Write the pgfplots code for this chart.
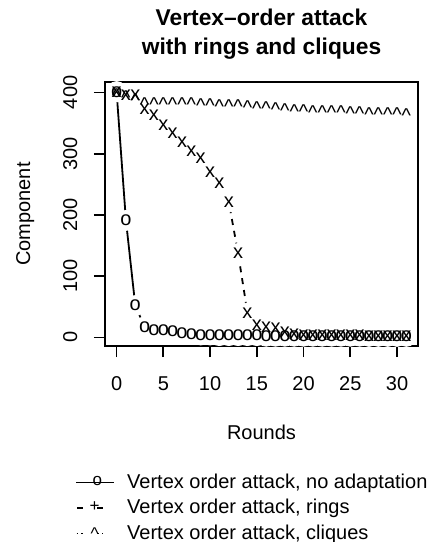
\documentclass[border=0pt]{standalone}
\usepackage{fontspec}
\setmainfont{Liberation Sans}
\setsansfont{Liberation Sans}
\usepackage{pgfplots}
\pgfplotsset{compat=1.18}
\usepackage{pgfplotstable}

\pgfplotstableread{
r noad rings cliques
0 401 401 401
1 191 396 397
2 52 395 392
3 17 372 386
4 12 362 386
5 11 347 386
6 10 333 385
7 7 318 385
8 5 304 385
9 4 292 384
10 4 269 384
11 3 251 383
12 3 221 383
13 3 137 382
14 3 40 381
15 3 20 380
16 2 17 379
17 2 15 377
18 2 8 376
19 2 5 375
20 2 4 374
21 2 3 373
22 2 3 373
23 2 3 372
24 2 3 372
25 2 3 371
26 2 3 371
27 2 2 370
28 2 2 370
29 2 2 369
30 2 2 369
31 2 2 368
}\data

\begin{document}
\begin{tikzpicture}
\useasboundingbox (0,0) rectangle (215.5pt,-271pt);
\begin{axis}[
  at={(52.5pt,-173pt)}, anchor=south west,
  scale only axis, width=156.5pt, height=132pt,
  xmin=-1.24, xmax=32.24, ymin=-14, ymax=417,
  xtick={0,5,...,30}, ytick={0,100,...,400},
  tick pos=left, tick align=outside, major tick length=5.5pt,
  axis line style={line width=0.9pt},
  tick style={line width=0.9pt, black},
  axis on top, clip=true,
  /pgf/number format/assume math mode=true,
  ticklabel style={font=\fontsize{10}{12}\selectfont},
  xticklabel style={anchor=base, inner sep=0pt, yshift=-16.5pt},
  yticklabel style={xshift=-8.4pt, rotate=90, anchor=base, inner sep=0pt},
  title={Vertex–order attack\\with rings and cliques},
  title style={font=\bfseries\fontsize{11.4}{14.5}\selectfont, align=center,
    at={(axis description cs:0.5,1.234)}, anchor=north, inner sep=0pt},
  xlabel={Rounds},
  xlabel style={font=\fontsize{10}{12}\selectfont, at={(axis description cs:0.5,-0.353)}, anchor=base, inner sep=0pt},
  ylabel={Component},
  ylabel style={font=\fontsize{10}{12}\selectfont, at={(axis description cs:-0.239,0.5)}, rotate=0, anchor=base, inner sep=0pt},
  legend style={draw=none, fill=none, at={(axis description cs:-0.0958,-0.467)}, anchor=north west,
    font=\fontsize{10}{12}\selectfont, inner sep=0pt, column sep=4pt},
  legend cell align=left,
  text mark as node=true,
]
% connecting lines
\addplot[forget plot, line width=0.9pt, solid] table[x=r,y=noad]{\data};
\addplot[forget plot, line width=0.9pt, dash pattern=on 3pt off 3pt] table[x=r,y=rings]{\data};
\addplot[forget plot, line width=0.9pt, dash pattern=on 0.6pt off 1.6pt] table[x=r,y=cliques]{\data};
% gaps around the points (type "b")
\addplot[forget plot, white, only marks, mark=*, mark size=5pt] table[x=r,y=noad]{\data};
\addplot[forget plot, white, only marks, mark=*, mark size=5pt] table[x=r,y=rings]{\data};
\addplot[forget plot, white, only marks, mark=*, mark size=5pt] table[x=r,y=cliques]{\data};
% point characters
\addplot[forget plot, only marks, mark=text, text mark={o}, text mark style={font=\fontsize{10}{12}\selectfont, inner sep=0pt}] table[x=r,y=noad]{\data};
\addplot[forget plot, only marks, mark=text, text mark={x}, text mark style={font=\fontsize{10}{12}\selectfont, inner sep=0pt}] table[x=r,y=rings]{\data};
\addplot[forget plot, only marks, mark=text, text mark={\textasciicircum}, text mark style={font=\fontsize{10}{12}\selectfont, inner sep=0pt, yshift=-1.75pt}] table[x=r,y=cliques]{\data};
% legend
\addlegendimage{legend image code/.code={\draw[line width=0.9pt] (0pt,0pt) -- (19pt,0pt); \node[inner sep=0pt, font=\fontsize{8.5}{8.5}\selectfont] at (8pt,0pt) {o};}}
\addlegendentry{Vertex order attack, no adaptation}
\addlegendimage{legend image code/.code={\draw[line width=0.9pt] (0.5pt,0pt) -- (3.5pt,0pt) (10.5pt,0pt) -- (13.5pt,0pt); \path (0pt,0pt) (19pt,0pt); \node[inner sep=0pt, font=\fontsize{8.5}{8.5}\selectfont] at (6.5pt,0pt) {+};}}
\addlegendentry{Vertex order attack, rings}
\addlegendimage{legend image code/.code={\draw[line width=0.9pt, dash pattern=on 0.6pt off 1.75pt] (0.2pt,0pt) -- (3.5pt,0pt) (10.5pt,0pt) -- (13.5pt,0pt); \path (0pt,0pt) (19pt,0pt); \node[inner sep=0pt, font=\fontsize{8.5}{8.5}\selectfont] at (7pt,-1pt) {\textasciicircum};}}
\addlegendentry{Vertex order attack, cliques}
\end{axis}
\end{tikzpicture}
\end{document}
